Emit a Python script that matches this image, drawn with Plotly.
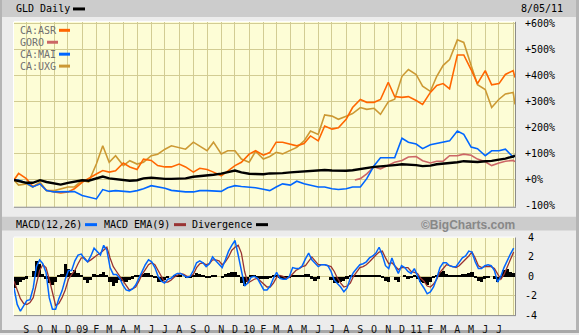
import pandas as pd
import plotly.graph_objects as go

W, H = 579, 335

# ---- price panel: % change since 2008-08-05, sampled on the 1st and 15th ----
MONTHS = [(2008, m) for m in range(9, 13)] + [(2009, m) for m in range(1, 13)] + \
         [(2010, m) for m in range(1, 13)] + [(2011, m) for m in range(1, 8)]
DATES = ["2008-08-05", "2008-08-15"] + \
        [f"{y}-{m:02d}-{d:02d}" for (y, m) in MONTHS for d in (1, 15)] + \
        ["2011-08-01", "2011-08-05"]

GLD = [0, -5, -11, -11, -1, -8, -15, -18, -11, -6,
       -1, -3, 6, 13, 6, 4, 0, -3, -1, 6, 9, 6, 4, 4, 6, 6, 12, 14, 16, 20, 24, 30, 36, 29,
       24, 23, 22, 25, 25, 26, 29, 31, 33, 36, 36, 38, 36, 35, 35, 37, 42, 45, 50, 52, 56, 57, 60, 59,
       57, 53, 55, 60, 62, 65, 68, 72, 70, 69, 72, 73, 78, 82, 90, 93]

ASR = [0, 25, 5, -25, -15, -40, -46, -50, -46, -34,
       -9, 4, 23, 36, 30, 35, 65, 50, 40, 80, 75, 55, 50, 50, 61, 50, 30, 45, 40, 30, 16, 34, 55, 68,
       99, 112, 95, 105, 145, 145, 138, 131, 140, 169, 150, 207, 195, 200, 233, 278, 309, 298, 298, 309,
       375, 320, 317, 320,
       305, 290, 336, 363, 370, 350, 480, 480, 424, 370, 420, 365, 370, 405, 420, 393]

MAI = [0, 0, -12, -27, -15, -41, -46, -46, -46, -45,
       -60, -65, -73, -37, -44, -41, -44, -46, -41, -34, -22, -27, -32, -40, -44, -46, -46, -41, -41,
       -42, -44, -30, -22, -25,
       -27, -30, -36, -41, -27, -15, -20, -5, -15, -20, -27, -27, -34, -37, -34, -27, -27, 5, 55, 85,
       85, 85, 160, 145,
       138, 120, 135, 140, 145, 150, 188, 175, 126, 120, 93, 112, 112, 118, 88, 95]

UXG = [0, -20, -15, -27, -8, -41, -41, -34, -27, -27,
       -2, -8, 61, 131, 68, 93, 55, 74, 61, 68, 93, 99, 118, 131, 125, 118, 145, 131, 112, 145, 100,
       112, 112, 80,
       68, 110, 80, 90, 106, 100, 112, 125, 150, 188, 175, 250, 245, 233, 245, 255, 278, 271, 275, 252,
       300, 310, 398, 424,
       405, 360, 340, 398, 440, 462, 538, 528, 440, 366, 347, 278, 310, 330, 336, 290]

GORO_DATES = ["2010-08-20"] + DATES[50:]
GORO = [0, 5, 23, 50, 42, 55, 68, 75, 88,
        90, 74, 65, 72, 72, 93, 93, 99, 95, 80, 70, 55, 65, 72, 75, 70]

# ---- MACD panel: weekly readings ----
MACD_DATES = pd.date_range("2008-08-05", periods=157, freq="7D")

MACD = [-1.2, -2.9, -3.6, -3.0, -2.5, -2.4, -1.2, 1.0, 1.7, 1.3,
        0.4, -2.2, -3.4, -3.4, -2.3, -1.5, -0.3, 0.6, 0.6, 1.6,
        2.2, 2.3, 1.8, 1.5, 2.1, 2.9, 2.6, 2.2, 3.2, 2.7,
        0.9, 0.2, 0.2, -0.2, -0.9, -1.4, -1.5, -1.3, -0.9, -0.2,
        0.6, 1.2, 1.7, 1.5, 0.9, 0.0, -0.5, -0.7, -0.3, -0.2,
        0.1, 0.3, 0.3, 0.1, -0.1, 0.0, 0.6, 1.4, 1.6, 1.4,
        1.0, 1.3, 2.0, 1.6, 1.3, 0.9, 1.7, 2.6, 3.2, 3.7,
        2.2, 0.4, -1.0, -0.7, -0.1, 0.0, -0.2, -0.8, -1.4, -1.4,
        -1.0, -0.2, 0.4, -0.2, -0.3, -0.3, 0.0, 0.9, 0.8, 0.8,
        1.1, 1.8, 2.4, 1.7, 1.3, 1.0, 1.2, 1.2, 1.1, 0.5,
        -0.4, -0.7, -1.1, -1.6, -1.2, -0.2, 0.4, 0.8, 1.2, 1.3,
        1.5, 1.9, 2.1, 2.4, 3.0, 2.2, 1.1, 0.8, 1.9, 1.0,
        0.3, 1.1, 0.9, 0.5, 0.3, 0.8, 0.0, -0.7, -1.2, -1.8,
        -1.6, -1.1, -0.2, 0.9, 1.4, 1.4, 1.1, 1.0, 1.0, 1.4,
        1.9, 2.1, 2.6, 2.5, 1.5, 0.8, 0.8, 1.1, 1.2, 1.1,
        0.6, -0.6, 0.0, 0.9, 1.7, 2.3, 2.9]

EMA9 = [-0.5, -1.5, -2.3, -2.8, -2.9, -2.7, -2.2, -0.8, 0.6, 1.2,
        0.9, -0.3, -1.6, -3.0, -2.8, -2.2, -1.4, -0.3, 0.2, 0.6,
        1.3, 1.9, 1.9, 1.5, 1.7, 2.0, 2.2, 2.4, 2.7, 3.0,
        1.9, 1.0, 0.5, 0.0, -0.5, -1.0, -1.4, -1.3, -1.1, -0.5,
        0.2, 0.7, 1.2, 1.4, 1.2, 0.6, 0.0, -0.6, -0.6, -0.4,
        -0.1, 0.1, 0.3, 0.2, 0.0, 0.0, 0.2, 0.9, 1.3, 1.4,
        1.2, 1.3, 1.7, 1.7, 1.6, 1.2, 1.5, 2.0, 2.7, 3.0,
        3.2, 2.4, 0.5, -0.7, -0.5, -0.3, -0.2, -0.5, -0.9, -1.1,
        -1.1, -0.7, -0.1, 0.1, 0.0, -0.2, -0.1, 0.3, 0.6, 0.8,
        1.0, 1.1, 1.5, 2.0, 1.6, 1.2, 1.2, 1.2, 1.1, 1.0,
        0.5, -0.2, -0.7, -1.1, -1.0, -0.7, 0.0, 0.4, 0.9, 1.0,
        1.2, 1.5, 1.9, 2.2, 2.5, 2.6, 1.9, 1.3, 1.4, 1.1,
        0.7, 0.9, 0.9, 0.9, 0.5, 0.4, 0.3, -0.2, -0.5, -1.0,
        -1.1, -0.8, -0.3, 0.4, 0.8, 1.2, 1.1, 1.0, 0.9, 1.1,
        1.4, 1.8, 2.1, 2.5, 1.9, 1.1, 0.9, 1.0, 1.0, 1.0,
        0.8, 0.3, -0.3, 0.2, 1.0, 1.7, 2.5]

DIVERGENCE = [-1.2, -0.9, -0.5, -0.3, -0.2, 0.0, 0.6, 1.6, 1.3, 0.3,
              -0.2, -0.6, -0.9, -0.5, 0.1, 0.3, 1.3, 0.8, 0.4, 0.7,
              0.4, 0.1, -0.3, -0.6, -0.3, 0.3, 0.2, 0.3, 0.5, 0.2,
              -0.5, -1.0, -0.6, -0.3, -0.4, -0.5, -0.3, -0.2, 0.1, 0.2,
              0.3, 0.4, 0.4, 0.2, -0.1, -0.5, -0.5, -0.3, -0.1, 0.0,
              0.1, 0.1, 0.1, 0.0, -0.1, -0.1, 0.2, 0.4, 0.3, 0.2,
              -0.1, -0.1, 0.2, 0.1, 0.0, -0.1, 0.3, 0.4, 0.5, 0.5,
              0.2, -0.6, -1.0, -0.5, 0.1, 0.1, -0.1, -0.2, -0.2, -0.2,
              -0.1, 0.2, 0.2, -0.1, -0.2, -0.2, -0.1, 0.2, 0.2, 0.1,
              0.1, 0.3, 0.3, -0.2, -0.4, -0.2, 0.0, 0.0, 0.0, -0.3,
              -0.6, -0.6, -0.5, -0.4, -0.2, 0.2, 0.2, 0.1, 0.1, 0.1,
              0.1, 0.2, 0.2, 0.2, 0.2, -0.1, -0.4, -0.5, 0.0, -0.3,
              -0.5, 0.0, 0.1, -0.2, -0.1, 0.2, -0.2, -0.5, -0.6, -0.8,
              -0.5, -0.1, 0.2, 0.5, 0.6, 0.3, 0.2, 0.1, 0.1, 0.2,
              0.3, 0.3, 0.4, 0.5, -0.1, -0.4, -0.5, -0.2, -0.1, 0.0,
              -0.2, -0.5, -0.2, 0.7, 0.8, 0.5, 0.4]

# month ticks along the bottom axis
TICK_DATES = [f"{y}-{m:02d}-01" for (y, m) in MONTHS] + ["2011-08-01"]
MONTH_LETTERS = "JFMAMJJASOND"
TICK_TEXT = [(f"{y % 100:02d}" if m == 1 else MONTH_LETTERS[m - 1]) for (y, m) in MONTHS] + [""]

PCT_TICKS = [-100, 0, 100, 200, 300, 400, 500, 600]
PCT_TEXT = ["-100%"] + [f"+{v}%" for v in PCT_TICKS[1:]]
MACD_TICKS = [-4, -2, 0, 2, 4]

# colours
C_GLD = "#000000"
C_ASR = "#ff6600"
C_GORO = "#cc6666"
C_MAI = "#0066ff"
C_UXG = "#cc9933"
C_EMA = "#993333"
GRID = "#d2cc93"
PLOT_BG = "#fdfdd6"
PAGE_BG = "#ececec"
BAND = "#cccccc"
MONO = "DejaVu Sans Mono"


def px(x):
    return x / W


def py(y):
    return 1 - y / H


X0, X1 = 14, 515
MAIN_TOP, MAIN_BOT = 22, 208
MACD_TOP, MACD_BOT = 239, 317
LABEL_X = 523

fig = go.Figure()

for name, xs, ys, col, w in [
    ("CA:UXG", DATES, UXG, C_UXG, 1.6),
    ("CA:ASR", DATES, ASR, C_ASR, 1.6),
    ("GORO", GORO_DATES, GORO, C_GORO, 1.6),
    ("CA:MAI", DATES, MAI, C_MAI, 1.6),
    ("GLD", DATES, GLD, C_GLD, 2.4),
]:
    fig.add_trace(go.Scatter(x=xs, y=ys, mode="lines", name=name,
                             line=dict(color=col, width=w), showlegend=False,
                             xaxis="x", yaxis="y"))

fig.add_trace(go.Bar(x=MACD_DATES, y=DIVERGENCE, marker=dict(color="#000000", line=dict(width=0)),
                     width=7 * 24 * 3600 * 1000, showlegend=False, xaxis="x2", yaxis="y2"))
fig.add_trace(go.Scatter(x=MACD_DATES, y=EMA9, mode="lines", line=dict(color=C_EMA, width=1.3),
                         showlegend=False, xaxis="x2", yaxis="y2"))
fig.add_trace(go.Scatter(x=MACD_DATES, y=MACD, mode="lines", line=dict(color=C_MAI, width=1.5),
                         showlegend=False, xaxis="x2", yaxis="y2"))

xcommon = dict(type="date", range=["2008-08-05", "2011-08-05"], domain=[px(X0), px(X1)],
               tickvals=TICK_DATES, showgrid=True, gridcolor=GRID, gridwidth=1,
               zeroline=False, showline=False, ticks="", fixedrange=True)
ycommon = dict(side="right", showgrid=True, gridcolor=GRID, zeroline=False, showline=False,
               ticks="", showticklabels=False, fixedrange=True)

fig.update_layout(
    width=W, height=H, margin=dict(l=0, r=0, t=0, b=0),
    paper_bgcolor=PAGE_BG, plot_bgcolor=PLOT_BG,
    bargap=0,
    xaxis=dict(**xcommon, anchor="y", showticklabels=False),
    xaxis2=dict(**xcommon, anchor="y2", ticktext=TICK_TEXT, showticklabels=True,
                tickfont=dict(family=MONO, size=10, color="#111111"), ticklabelstandoff=7),
    yaxis=dict(**ycommon, domain=[py(MAIN_BOT), py(MAIN_TOP)], range=[-103, 607],
               tickvals=PCT_TICKS, anchor="x"),
    yaxis2=dict(**ycommon, domain=[py(MACD_BOT), py(MACD_TOP)], range=[-4, 4],
                tickvals=MACD_TICKS, anchor="x2"),
)

shapes = []


def rect(x0, y0, x1, y1, color, layer="below"):
    shapes.append(dict(type="rect", xref="paper", yref="paper", x0=px(x0), x1=px(x1),
                       y0=py(y1), y1=py(y0), fillcolor=color, line=dict(width=0), layer=layer))


def hline(x0, x1, y, color, layer="above"):
    shapes.append(dict(type="line", xref="paper", yref="paper", x0=px(x0), x1=px(x1),
                       y0=py(y), y1=py(y), line=dict(color=color, width=1), layer=layer))


def vline(x, y0, y1, color, layer="above"):
    shapes.append(dict(type="line", xref="paper", yref="paper", x0=px(x), x1=px(x),
                       y0=py(y0), y1=py(y1), line=dict(color=color, width=1), layer=layer))


# title bands and outer frame
rect(0, 0, W, 17, BAND)
rect(0, 218, W, 232, BAND)
rect(0, 0, 2, H, "#b4b4b4")
rect(576, 0, W, H, "#b4b4b4")
rect(0, 332, W, H, "#a8a8a8")

# panel edges
for top, bot in [(MAIN_TOP, MAIN_BOT), (MACD_TOP, MACD_BOT)]:
    hline(X0, X1, top - 0.5, "#ffffff")
    vline(X0 - 0.5, top, bot, "#ffffff")
    hline(X0, X1 + 1, bot + 0.5, "#8c8c8c")
    vline(X1 + 0.5, top, bot, "#8c8c8c")

annotations = []


def label(x, y, text, color="#000000", size=10, family=MONO, anchor="left", bold=False, yref="paper"):
    if bold:
        text = f"<b>{text}</b>"
    annotations.append(dict(x=px(x), y=(py(y) if yref == "paper" else y), xref="paper", yref=yref,
                            text=text, showarrow=False, xanchor=anchor, yanchor="middle",
                            font=dict(family=family, size=size, color=color)))


def swatch(x0, y, color, length=12, thick=4):
    rect(x0, y - thick / 2, x0 + length, y + thick / 2, color, layer="above")


# right-hand scale labels, placed on each panel's own y axis
for v, t in zip(PCT_TICKS, PCT_TEXT):
    label(LABEL_X, v, t, yref="y")
for v in MACD_TICKS:
    label(LABEL_X + (0 if v < 0 else 3), v, str(v), yref="y2")

# header
label(14, 9, "GLD Daily")
swatch(73, 9, C_GLD, thick=3)
label(565, 9, "8/05/11", anchor="right")

# in-panel legend
LEGEND = [("CA:ASR", C_ASR), ("GORO", C_GORO), ("CA:MAI", C_MAI), ("CA:UXG", C_UXG)]
for i, (name, col) in enumerate(LEGEND):
    yy = 30.5 + i * 12
    label(18, yy, name, color="#707070")
    swatch(18 + len(name) * 6 + 5, yy, col, length=11, thick=3)

# MACD header
label(14, 226, "MACD(12,26)")
swatch(85, 226, C_MAI, thick=3)
label(102, 226, "MACD EMA(9)")
swatch(174, 226, C_EMA, thick=3)
label(190, 226, "Divergence")
swatch(256, 226, "#000000", thick=3)
label(517, 226, "©BigCharts.com", color="#888888", size=12, family="Liberation Sans",
      anchor="right", bold=True)

fig.update_layout(shapes=shapes, annotations=annotations)

fig.write_html("out.html")
